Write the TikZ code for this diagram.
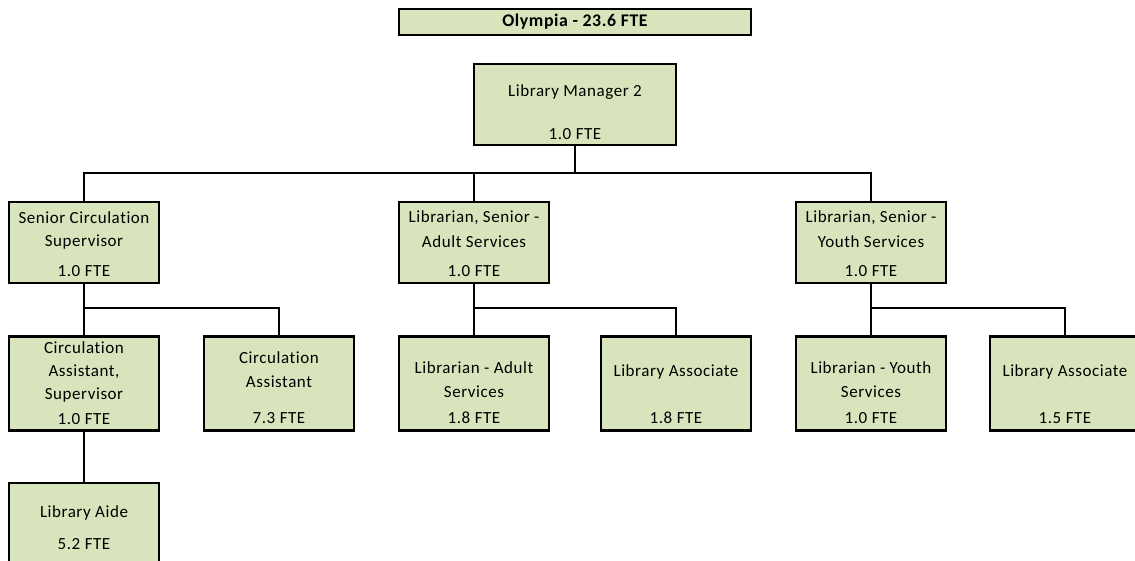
\documentclass[tikz,border=0pt]{standalone}
\usepackage{fontspec}
\setmainfont{Carlito}[LetterSpace=3.3, RawFeature=-liga]
\definecolor{boxfill}{HTML}{D8E4BC}
\tikzset{
  unit/.style={draw=black, line width=2.2pt, fill=boxfill, inner sep=0pt},
  lvA/.style={unit, minimum width=150pt, minimum height=81pt},
  lvB/.style={unit, minimum width=150pt, minimum height=94pt},
  txt/.style={inner sep=0pt, anchor=center, font=\fontsize{17}{19}\selectfont},
  conn/.style={draw=black, line width=2.2pt}
}
\begin{document}
\begin{tikzpicture}[x=1pt,y=-1pt]
\clip (0,0) rectangle (1135,561);
\fill[white] (0,0) rectangle (1135,561);

% heading
\node[unit, minimum width=352pt, minimum height=26pt] (head) at (575,22) {};
\node[txt, font=\fontsize{17.8}{20}\selectfont\bfseries] (headt) at (575,22) {Olympia - 23.6 FTE};

% top level
\node[unit, minimum width=202pt, minimum height=81pt] (mgr) at (575,104.5) {};
\node[txt] (mgrt) at (575,92) {Library Manager 2};
\node[txt] (mgrf) at (575,134) {1.0 FTE};

% second level
\node[lvA] (sc) at (84,242.5) {};
\node[txt] (sc1) at (84,218) {Senior Circulation};
\node[txt] (sc2) at (84,242) {Supervisor};
\node[txt] (sc3) at (84,271) {1.0 FTE};

\node[lvA] (ad) at (474,242.5) {};
\node[txt] (ad1) at (474,218) {Librarian, Senior -};
\node[txt] (ad2) at (474,242) {Adult Services};
\node[txt] (ad3) at (474,271) {1.0 FTE};

\node[lvA] (ys) at (871,242.5) {};
\node[txt] (ys1) at (871,218) {Librarian, Senior -};
\node[txt] (ys2) at (871,242) {Youth Services};
\node[txt] (ys3) at (871,271) {1.0 FTE};

% third level
\node[lvB] (cs) at (84,383.5) {};
\node[txt] (cs1) at (84,348) {Circulation};
\node[txt] (cs2) at (84,372) {Assistant,};
\node[txt] (cs3) at (84,395) {Supervisor};
\node[txt] (cs4) at (84,419) {1.0 FTE};

\node[lvB] (ca) at (279,383.5) {};
\node[txt] (ca1) at (279,358) {Circulation};
\node[txt] (ca2) at (279,382) {Assistant};
\node[txt] (ca3) at (279,418) {7.3 FTE};

\node[lvB] (la) at (474,383.5) {};
\node[txt] (la1) at (474,368) {Librarian - Adult};
\node[txt] (la2) at (474,392) {Services};
\node[txt] (la3) at (474,418) {1.8 FTE};

\node[lvB] (aa) at (676,383.5) {};
\node[txt] (aa1) at (676,372) {Library Associate};
\node[txt] (aa2) at (676,418) {1.8 FTE};

\node[lvB] (ly) at (871,383.5) {};
\node[txt] (ly1) at (871,368) {Librarian - Youth};
\node[txt] (ly2) at (871,392) {Services};
\node[txt] (ly3) at (871,418) {1.0 FTE};

\node[lvB] (ya) at (1065,383.5) {};
\node[txt] (ya1) at (1065,372) {Library Associate};
\node[txt] (ya2) at (1065,418) {1.5 FTE};

% fourth level
\node[lvB] (ai) at (84,530) {};
\node[txt] (ai1) at (84,513) {Library Aide};
\node[txt] (ai2) at (84,544) {5.2 FTE};

% connectors
\coordinate (b0) at (575,173);
\coordinate (b1) at (84,308);
\coordinate (b2) at (474,308);
\coordinate (b3) at (871,308);
\draw[conn] (mgr.south) -- (b0);
\draw[conn] (sc.north) |- (b0) -| (ys.north);
\draw[conn] (ad.north) -- (ad.north |- b0);
\draw[conn] (sc.south) -- (b1) -| (ca.north);
\draw[conn] (b1) -- (cs.north);
\draw[conn] (ad.south) -- (b2) -| (aa.north);
\draw[conn] (b2) -- (la.north);
\draw[conn] (ys.south) -- (b3) -| (ya.north);
\draw[conn] (b3) -- (ly.north);
\draw[conn] (cs.south) -- (ai.north);
\end{tikzpicture}
\end{document}
